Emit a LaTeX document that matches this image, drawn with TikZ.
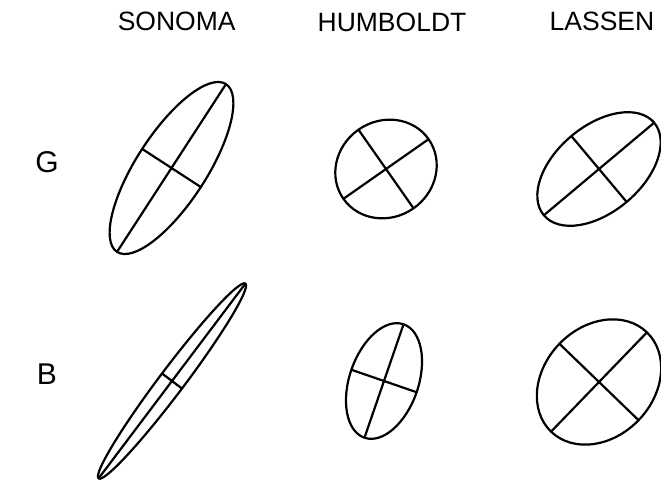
\documentclass[tikz,border=0pt]{standalone}
\usepackage{fontspec}
\setmainfont{Liberation Sans}
\begin{document}
\begin{tikzpicture}[x=1pt,y=1pt,
  lbl/.style={inner sep=0pt,anchor=base,font=\fontsize{26.5}{30}\selectfont},
  rowlbl/.style={inner sep=0pt,anchor=base,font=\fontsize{30}{34}\selectfont},
  ell/.style={line width=2.2pt}]
\useasboundingbox (0,0) rectangle (661,482);
\node[lbl] (sonoma) at (176.7,451) {SONOMA};
\node[lbl] (humboldt) at (392,450) {HUMBOLDT};
\node[lbl] (lassen) at (602,451) {LASSEN};
\node[rowlbl] (g) at (47,309) {G};
\node[rowlbl] (b) at (47,97) {B};
% cx, cy, a, b, angle
\foreach \cx/\cy/\ra/\rb/\ang in {171.5/314/100/35/57, 386/313/52/48/35, 599/313/72/43/40,
  172/101/122/12.5/53, 384/101/60/34.5/71, 599/100/69/55/46}{
  \begin{scope}[shift={(\cx,\cy)},rotate=\ang]
    \draw[ell] (0,0) ellipse [x radius=\ra, y radius=\rb];
    \draw[ell] (-\ra,0) -- (\ra,0);
    \draw[ell] (0,-\rb) -- (0,\rb);
  \end{scope}
}
\end{tikzpicture}
\end{document}
